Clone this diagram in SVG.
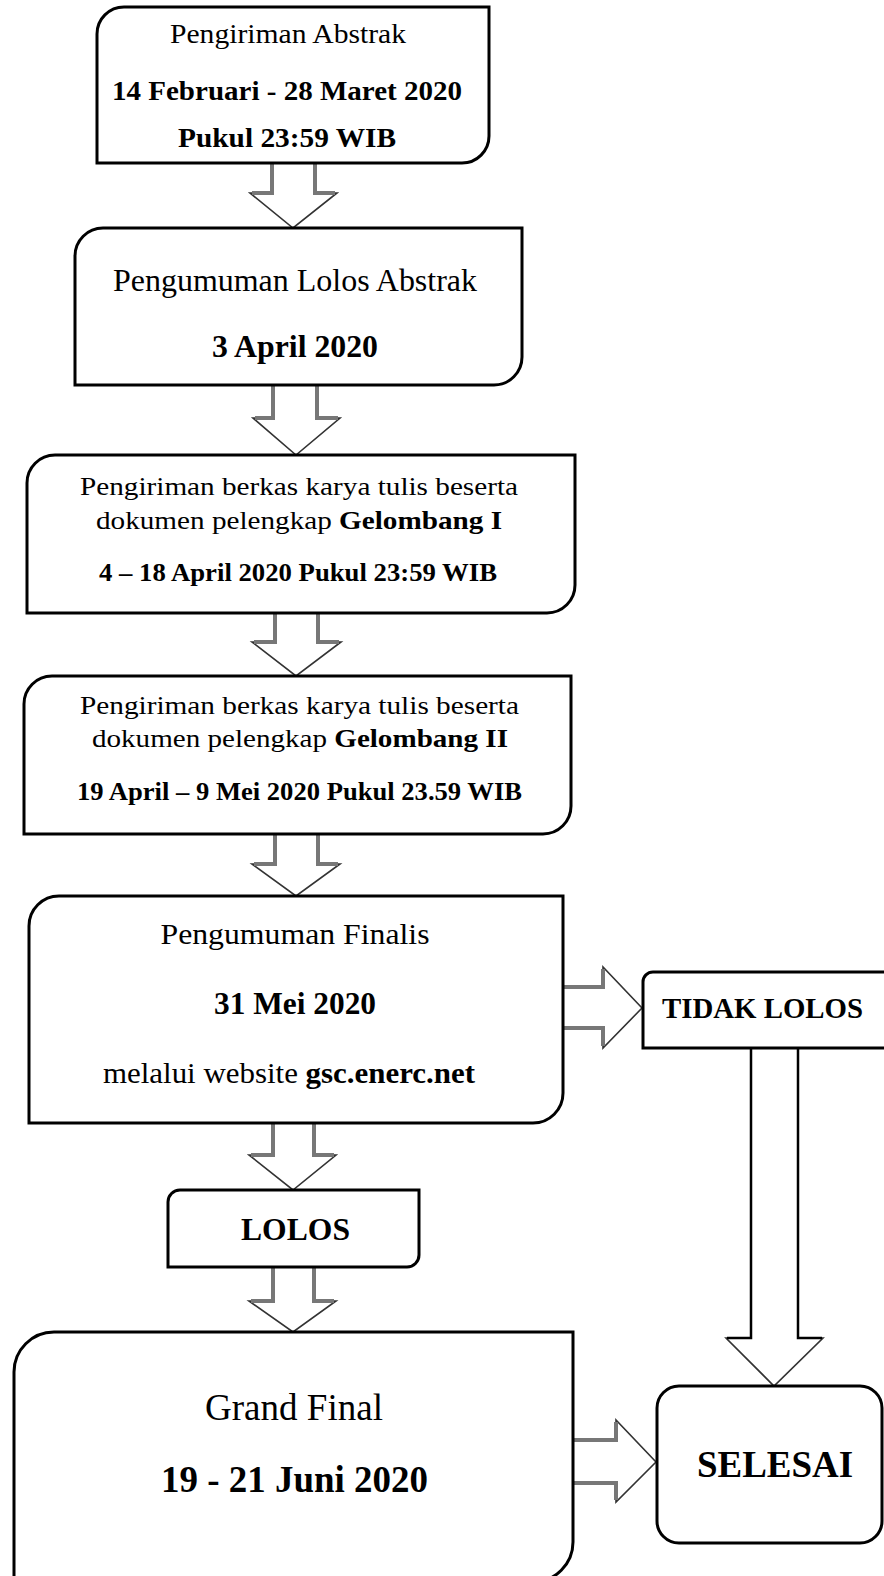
<svg xmlns="http://www.w3.org/2000/svg" width="884" height="1576" viewBox="0 0 884 1576">
<style>
.box{fill:#fff;stroke:#000;stroke-width:3}
.t{font-family:"Liberation Serif","Times New Roman",serif;fill:#000;text-anchor:middle}
.b{font-weight:bold}
.head{fill:#fff;stroke:#333;stroke-width:1.6;stroke-linejoin:miter}
.shaft{fill:none;stroke:#777;stroke-width:4}
.shaftk{fill:none;stroke:#000;stroke-width:2.5}
</style>
<rect width="884" height="1576" fill="#fff"/>
<g id="connectors">
  <!-- A1 -->
  <polygon class="head" points="272,163 272,193 250,193 293,228 337,193 315,193 315,163"/>
  <path class="shaft" d="M252,193 H272 V164 M335,193 H315 V164"/>
  <!-- A2 -->
  <polygon class="head" points="273,385 273,418 253,418 296,455 340,418 317,418 317,385"/>
  <path class="shaft" d="M255,418 H273 V386 M338,418 H317 V386"/>
  <!-- A3 -->
  <polygon class="head" points="275,613 275,642 252,642 296,676 341,642 318,642 318,613"/>
  <path class="shaft" d="M254,642 H275 V614 M339,642 H318 V614"/>
  <!-- A4 -->
  <polygon class="head" points="275,834 275,864 252,864 296,896 340,864 318,864 318,834"/>
  <path class="shaft" d="M254,864 H275 V835 M338,864 H318 V835"/>
  <!-- A5 -->
  <polygon class="head" points="273,1123 273,1155 249,1155 293,1190 336,1155 314,1155 314,1123"/>
  <path class="shaft" d="M251,1155 H273 V1124 M334,1155 H314 V1124"/>
  <!-- A6 -->
  <polygon class="head" points="273,1267 273,1301 249,1301 293,1332 336,1301 314,1301 314,1267"/>
  <path class="shaft" d="M251,1301 H273 V1268 M334,1301 H314 V1268"/>
  <!-- R1 to TIDAK LOLOS -->
  <polygon class="head" points="563,987 603,987 603,967 642,1008 603,1048 603,1028 563,1028"/>
  <path class="shaft" d="M564,987 H603 V969 M564,1028 H603 V1046"/>
  <!-- R2 to SELESAI -->
  <polygon class="head" points="573,1440 616,1440 616,1420 656,1462 616,1502 616,1483 573,1483"/>
  <path class="shaft" d="M574,1440 H616 V1422 M574,1483 H616 V1500"/>
  <!-- D TIDAK LOLOS to SELESAI -->
  <polygon class="head" points="751,1048 751,1338 726,1338 774,1386 823,1338 798,1338 798,1048"/>
  <path class="shaftk" d="M727,1338 H751 V1048 M822,1338 H798 V1048"/>
</g>
<g id="n1">
  <path class="box" d="M124,7 H489 V136 A27 27 0 0 1 462,163 H97 V34 A27 27 0 0 1 124,7 Z"/>
  <text class="t" x="288" y="43" font-size="27" textLength="236" lengthAdjust="spacingAndGlyphs">Pengiriman Abstrak</text>
  <text class="t b" x="287" y="100" font-size="27" textLength="350" lengthAdjust="spacingAndGlyphs">14 Februari - 28 Maret 2020</text>
  <text class="t b" x="287" y="147" font-size="27" textLength="218" lengthAdjust="spacingAndGlyphs">Pukul 23:59 WIB</text>
</g>
<g id="n2">
  <path class="box" d="M103,228 H522 V357 A28 28 0 0 1 494,385 H75 V256 A28 28 0 0 1 103,228 Z"/>
  <text class="t" x="295" y="291" font-size="32" textLength="364" lengthAdjust="spacingAndGlyphs">Pengumuman Lolos Abstrak</text>
  <text class="t b" x="295" y="357" font-size="32" textLength="166" lengthAdjust="spacingAndGlyphs">3 April 2020</text>
</g>
<g id="n3">
  <path class="box" d="M55,455 H575 V585 A28 28 0 0 1 547,613 H27 V483 A28 28 0 0 1 55,455 Z"/>
  <text class="t" x="299" y="495" font-size="26" textLength="438" lengthAdjust="spacingAndGlyphs">Pengiriman berkas karya tulis beserta</text>
  <text class="t" x="299" y="529" font-size="26" textLength="406" lengthAdjust="spacingAndGlyphs">dokumen pelengkap <tspan class="b">Gelombang I</tspan></text>
  <text class="t b" x="298" y="581" font-size="25" textLength="398" lengthAdjust="spacingAndGlyphs">4 – 18 April 2020 Pukul 23:59 WIB</text>
</g>
<g id="n4">
  <path class="box" d="M52,676 H571 V806 A28 28 0 0 1 543,834 H24 V704 A28 28 0 0 1 52,676 Z"/>
  <text class="t" x="299.5" y="714" font-size="26" textLength="439" lengthAdjust="spacingAndGlyphs">Pengiriman berkas karya tulis beserta</text>
  <text class="t" x="300" y="747" font-size="26" textLength="416" lengthAdjust="spacingAndGlyphs">dokumen pelengkap <tspan class="b">Gelombang II</tspan></text>
  <text class="t b" x="299.5" y="800" font-size="25" textLength="445" lengthAdjust="spacingAndGlyphs">19 April – 9 Mei 2020 Pukul 23.59 WIB</text>
</g>
<g id="n5">
  <path class="box" d="M59,896 H563 V1093 A30 30 0 0 1 533,1123 H29 V926 A30 30 0 0 1 59,896 Z"/>
  <text class="t" x="295" y="944" font-size="29" textLength="269" lengthAdjust="spacingAndGlyphs">Pengumuman Finalis</text>
  <text class="t b" x="295" y="1014" font-size="32" textLength="162" lengthAdjust="spacingAndGlyphs">31 Mei 2020</text>
  <text class="t" x="289" y="1083" font-size="29" textLength="372" lengthAdjust="spacingAndGlyphs">melalui website <tspan class="b">gsc.enerc.net</tspan></text>
</g>
<g id="n6">
  <path class="box" d="M653,972 H887 V1048 H643 V982 A10 10 0 0 1 653,972 Z"/>
  <text class="t b" x="762.5" y="1018" font-size="29" textLength="201" lengthAdjust="spacingAndGlyphs">TIDAK LOLOS</text>
</g>
<g id="n7">
  <path class="box" d="M180,1190 H419 V1255 A12 12 0 0 1 407,1267 H168 V1202 A12 12 0 0 1 180,1190 Z"/>
  <text class="t b" x="295.5" y="1240" font-size="31" textLength="109" lengthAdjust="spacingAndGlyphs">LOLOS</text>
</g>
<g id="n8">
  <path class="box" d="M54,1332 H573 V1542 A40 40 0 0 1 533,1582 H14 V1372 A40 40 0 0 1 54,1332 Z"/>
  <text class="t" x="294" y="1420" font-size="37" textLength="178" lengthAdjust="spacingAndGlyphs">Grand Final</text>
  <text class="t b" x="294.5" y="1492" font-size="37" textLength="267" lengthAdjust="spacingAndGlyphs">19 - 21 Juni 2020</text>
</g>
<g id="n9">
  <rect class="box" x="657" y="1386" width="225" height="157" rx="22" ry="22"/>
  <text class="t b" x="775" y="1477" font-size="37" textLength="156" lengthAdjust="spacingAndGlyphs">SELESAI</text>
</g>
</svg>
